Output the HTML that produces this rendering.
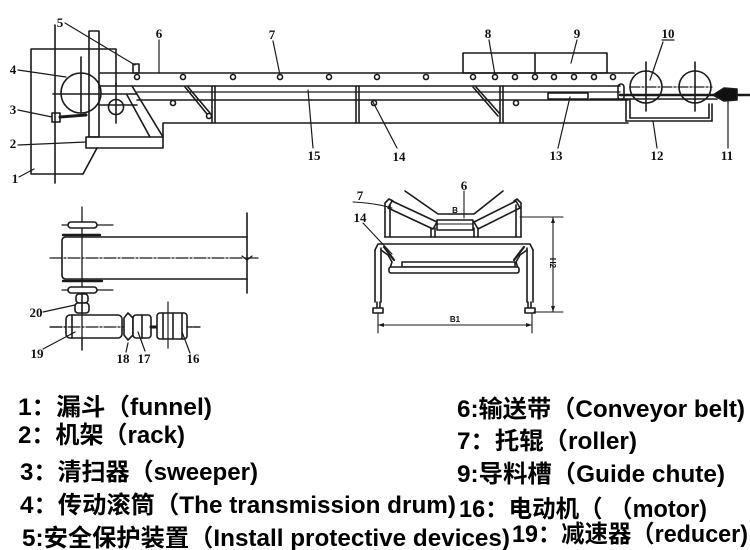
<!DOCTYPE html>
<html>
<head>
<meta charset="utf-8">
<style>
html,body{margin:0;padding:0;background:#fff;}
svg{display:block;}
.t{font-family:"Liberation Sans","Noto Sans CJK SC",sans-serif;font-weight:bold;font-size:24px;fill:#000;}
.n{font-family:"Liberation Serif","Noto Serif CJK SC",serif;font-weight:bold;font-size:13px;fill:#111;text-anchor:middle;}
.s{font-family:"Liberation Sans",sans-serif;font-weight:bold;font-size:8px;fill:#111;text-anchor:middle;}
</style>
</head>
<body>
<svg width="750" height="550" viewBox="0 0 750 550" xmlns="http://www.w3.org/2000/svg">
<g fill="none" stroke="#1a1a1a" stroke-width="1.6" stroke-linecap="round" stroke-linejoin="round">
  <!-- ===== MAIN SIDE VIEW ===== -->
  <polyline points="116,86 116,49 31,49 31,174 83,174 97,148"/>
  <line x1="55" y1="25" x2="55" y2="183"/>
  <rect x="89" y="31" width="10" height="106"/>
  <circle cx="81" cy="93" r="20"/>
  <line x1="81" y1="57" x2="81" y2="113"/>
  <line x1="53" y1="94" x2="137" y2="94"/>
  <line x1="100" y1="73" x2="634" y2="73"/>
  <line x1="100" y1="86" x2="620" y2="86"/>
  <line x1="137" y1="92" x2="620" y2="92" stroke-width="1.2"/>
  <line x1="137" y1="100" x2="628" y2="100"/>
  <line x1="100" y1="105" x2="137" y2="105"/>
  <line x1="132" y1="86" x2="163" y2="137"/>
  <line x1="127" y1="95" x2="150" y2="137"/>
  <rect x="86" y="137" width="77" height="11"/>
  <polyline points="163,137 163,123 628,123"/>
  <circle cx="116" cy="107" r="7.5"/>
  <line x1="116" y1="83" x2="116" y2="123"/>
  <rect x="52" y="113" width="8" height="9"/>
  <line x1="60" y1="117" x2="86" y2="115" stroke-width="3"/>
  <rect x="133" y="64" width="6" height="9"/>
  <g fill="#fff">
    <circle cx="137" cy="77" r="2.5"/><circle cx="183" cy="77" r="2.5"/><circle cx="233" cy="77" r="2.5"/>
    <circle cx="280" cy="77" r="2.5"/><circle cx="329" cy="77" r="2.5"/><circle cx="377" cy="77" r="2.5"/>
    <circle cx="426" cy="77" r="2.5"/><circle cx="473" cy="77" r="2.5"/><circle cx="495" cy="77" r="2.5"/>
    <circle cx="515" cy="77" r="2.5"/><circle cx="535" cy="77" r="2.5"/><circle cx="554" cy="77" r="2.5"/>
    <circle cx="574" cy="77" r="2.5"/><circle cx="594" cy="77" r="2.5"/><circle cx="613" cy="77" r="2.5"/>
    <circle cx="173" cy="103" r="2.5"/><circle cx="374" cy="103" r="2.5"/><circle cx="516" cy="103" r="2.5"/>
  </g>
  <line x1="185" y1="87" x2="207" y2="114"/>
  <line x1="188" y1="87" x2="210" y2="113"/>
  <circle cx="209" cy="116" r="2.5" fill="#fff"/>
  <line x1="212" y1="86" x2="212" y2="123"/>
  <line x1="215" y1="86" x2="215" y2="123"/>
  <line x1="356" y1="86" x2="356" y2="123"/>
  <line x1="359" y1="86" x2="359" y2="123"/>
  <line x1="473" y1="87" x2="498" y2="116"/>
  <line x1="476" y1="87" x2="500" y2="114"/>
  <line x1="500" y1="86" x2="500" y2="123"/>
  <line x1="503" y1="86" x2="503" y2="123"/>
  <rect x="463" y="53" width="144" height="20"/>
  <line x1="535" y1="53" x2="535" y2="73"/>
  <rect x="548" y="93" width="40" height="6"/>
  <rect x="618" y="84" width="6" height="16" rx="3"/>
  <circle cx="646" cy="87" r="16"/>
  <circle cx="695" cy="87" r="16"/>
  <line x1="646" y1="62" x2="646" y2="111"/>
  <line x1="695" y1="62" x2="695" y2="111"/>
  <line x1="630" y1="87" x2="712" y2="87" stroke-dasharray="10 2 2 2" stroke-width="1.2"/>
  <line x1="620" y1="95" x2="750" y2="95" stroke-width="2.4"/>
  <line x1="590" y1="99" x2="717" y2="99"/>
  <line x1="626" y1="99" x2="626" y2="121"/>
  <line x1="630" y1="99" x2="630" y2="118"/>
  <line x1="626" y1="121" x2="712" y2="121"/>
  <line x1="630" y1="118" x2="709" y2="118"/>
  <line x1="712" y1="104" x2="712" y2="121"/>
  <line x1="709" y1="104" x2="709" y2="118"/>
  <polygon points="713,95 724,88 737,89 737,100 724,101" fill="#111"/>

  <g stroke-width="1.2">
    <line x1="65" y1="23" x2="135" y2="65"/>
    <line x1="159" y1="40" x2="159" y2="73"/>
    <line x1="18" y1="70" x2="66" y2="77"/>
    <line x1="18" y1="110" x2="52" y2="117"/>
    <line x1="18" y1="145" x2="86" y2="142"/>
    <line x1="19" y1="177" x2="34" y2="169"/>
    <line x1="273" y1="41" x2="280" y2="75"/>
    <line x1="489" y1="40" x2="495" y2="75"/>
    <line x1="577" y1="40" x2="571" y2="63"/>
    <line x1="663" y1="42" x2="650" y2="80"/>
    <line x1="662" y1="40" x2="674" y2="40"/>
    <line x1="308" y1="90" x2="313" y2="148"/>
    <line x1="373" y1="102" x2="397" y2="148"/>
    <line x1="570" y1="97" x2="558" y2="148"/>
    <line x1="653" y1="121" x2="657" y2="148"/>
    <line x1="728" y1="100" x2="728" y2="148"/>
  </g>

  <!-- ===== BOTTOM LEFT PLAN VIEW ===== -->
  <path d="M247,237 L66,237 Q62,237 62,241 L62,275 Q62,279 66,279 L247,279"/>
  <line x1="63" y1="235" x2="100" y2="235" stroke-width="2.4"/>
  <line x1="63" y1="281" x2="102" y2="281" stroke-width="2.4"/>
  <line x1="247" y1="213" x2="247" y2="293"/>
  <line x1="82" y1="207" x2="82" y2="350" stroke-width="1.3"/>
  <line x1="50" y1="258" x2="258" y2="258" stroke-dasharray="12 2 2 2" stroke-width="1.2"/>
  <path d="M242,256 L247,260 L252,256" stroke-width="1.2"/>
  <line x1="62" y1="225" x2="113" y2="225" stroke-width="1.2"/>
  <rect x="68" y="222" width="29" height="6" rx="3" fill="#fff"/>
  <line x1="62" y1="290" x2="113" y2="290" stroke-width="1.2"/>
  <rect x="68" y="287" width="29" height="6" rx="3" fill="#fff"/>
  <rect x="76" y="294" width="12" height="9" rx="3" fill="#fff"/>
  <rect x="75" y="303" width="14" height="10" rx="3" fill="#fff"/>
  <line x1="82" y1="294" x2="82" y2="313"/>
  <line x1="50" y1="327" x2="200" y2="327" stroke-dasharray="12 2 2 2" stroke-width="1.2"/>
  <rect x="66" y="315" width="56" height="23" rx="4" fill="#fff"/>
  <line x1="72" y1="315" x2="72" y2="338"/>
  <line x1="82" y1="313" x2="82" y2="350" stroke-width="1.3"/>
  <line x1="50" y1="327" x2="122" y2="327" stroke-dasharray="12 2 2 2" stroke-width="1.2"/>
  <polygon points="128,313 133,318 133,335 128,340 124,335 124,318" fill="#fff"/>
  <rect x="133" y="315" width="18" height="23" rx="3" fill="#fff"/>
  <line x1="142" y1="315" x2="142" y2="338"/>
  <line x1="151" y1="327" x2="157" y2="327" stroke-width="3"/>
  <rect x="157" y="313" width="30" height="26" rx="3" fill="#fff"/>
  <line x1="163" y1="313" x2="163" y2="339"/>
  <line x1="173" y1="313" x2="173" y2="339"/>
  <line x1="182" y1="313" x2="182" y2="339"/>
  <line x1="168" y1="302" x2="168" y2="348" stroke-width="1.2"/>
  <line x1="187" y1="327" x2="200" y2="327" stroke-width="1.2"/>
  <g stroke-width="1.2">
    <line x1="43" y1="312" x2="75" y2="305"/>
    <line x1="43" y1="349" x2="75" y2="332"/>
    <line x1="128" y1="343" x2="126" y2="352"/>
    <line x1="138" y1="332" x2="145" y2="351"/>
    <line x1="182" y1="332" x2="190" y2="353"/>
  </g>

  <!-- ===== BOTTOM MIDDLE IDLER ===== -->
  <polyline points="405,191 438,214 474,214 503,191"/>
  <polygon points="392,201 437,222 433,229 388,208" fill="#fff"/>
  <polygon points="474,222 516,201 520,208 478,229" fill="#fff"/>
  <rect x="437" y="220" width="36" height="10" fill="#fff"/>
  <line x1="437" y1="224" x2="473" y2="224" stroke-width="1"/>
  <line x1="431" y1="228" x2="431" y2="237"/><line x1="435" y1="228" x2="435" y2="237"/>
  <line x1="474" y1="228" x2="474" y2="237"/><line x1="478" y1="228" x2="478" y2="237"/>
  <polyline points="385,237 385,203 389,199 393,201"/>
  <line x1="390" y1="205" x2="390" y2="237"/>
  <polyline points="521,237 521,203 517,199 514,201"/>
  <line x1="516" y1="205" x2="516" y2="237"/>
  <line x1="385" y1="237" x2="521" y2="237"/>
  <polyline points="375,250 378,244 530,244 533,250"/>
  <line x1="375" y1="250" x2="375" y2="302"/>
  <line x1="381" y1="248" x2="381" y2="302"/>
  <line x1="377" y1="302" x2="377" y2="308"/><line x1="380" y1="302" x2="380" y2="308"/>
  <rect x="373" y="308" width="10" height="5" fill="#fff"/>
  <line x1="527" y1="248" x2="527" y2="302"/>
  <line x1="533" y1="250" x2="533" y2="302"/>
  <line x1="528" y1="302" x2="528" y2="308"/><line x1="531" y1="302" x2="531" y2="308"/>
  <rect x="525" y="308" width="10" height="5" fill="#fff"/>
  <polyline points="381,250 388,255 392,262 390,268"/>
  <polyline points="527,250 520,255 516,262 518,268"/>
  <line x1="384" y1="247" x2="394" y2="260" stroke-width="2.2"/>
  <line x1="524" y1="247" x2="514" y2="260" stroke-width="2.2"/>
  <rect x="402" y="262" width="113" height="5"/>
  <rect x="389" y="267" width="130" height="6" rx="2" fill="#fff"/>
  <line x1="520" y1="217" x2="563" y2="217" stroke-width="1.1"/>
  <line x1="534" y1="312" x2="563" y2="312" stroke-width="1.1"/>
  <line x1="553" y1="217" x2="553" y2="312" stroke-width="1.1"/>
  <line x1="378" y1="313" x2="378" y2="333" stroke-width="1.1"/>
  <line x1="532" y1="313" x2="532" y2="333" stroke-width="1.1"/>
  <line x1="378" y1="325" x2="532" y2="325" stroke-width="1.1"/>
  <g stroke-width="1.1">
    <line x1="464" y1="191" x2="464" y2="218"/>
    <path d="M353,202 Q375,203 392,208"/>
    <line x1="363" y1="223" x2="392" y2="254"/>
  </g>
</g>

<g fill="#1a1a1a">
  <polygon points="553,217 551,223 555,223"/>
  <polygon points="553,312 551,306 555,306"/>
  <polygon points="378,325 384,323 384,327"/>
  <polygon points="532,325 526,323 526,327"/>
</g>

<!-- ===== NUMBER LABELS ===== -->
<text class="n" x="60" y="27">5</text>
<text class="n" x="159" y="38">6</text>
<text class="n" x="13" y="74">4</text>
<text class="n" x="13" y="114">3</text>
<text class="n" x="13" y="148">2</text>
<text class="n" x="15" y="183">1</text>
<text class="n" x="272" y="39">7</text>
<text class="n" x="488" y="38">8</text>
<text class="n" x="577" y="38">9</text>
<text class="n" x="668" y="38">10</text>
<text class="n" x="314" y="160">15</text>
<text class="n" x="399" y="161">14</text>
<text class="n" x="556" y="160">13</text>
<text class="n" x="657" y="160">12</text>
<text class="n" x="727" y="160">11</text>

<text class="n" x="36" y="317">20</text>
<text class="n" x="37" y="358">19</text>
<text class="n" x="123" y="363">18</text>
<text class="n" x="144" y="363">17</text>
<text class="n" x="193" y="363">16</text>

<text class="n" x="464" y="190">6</text>
<text class="n" x="360" y="200">7</text>
<text class="n" x="360" y="222">14</text>
<text class="s" x="455" y="213">B</text>
<text class="s" x="455" y="322">B1</text>
<text class="s" transform="translate(550,263) rotate(90)" x="0" y="0">H2</text>

<!-- ===== LEGEND ===== -->
<text class="t" x="18" y="415" textLength="194" lengthAdjust="spacingAndGlyphs">1：漏斗（funnel)</text>
<text class="t" x="18" y="443" textLength="167" lengthAdjust="spacingAndGlyphs">2：机架（rack)</text>
<text class="t" x="20" y="480" textLength="238" lengthAdjust="spacingAndGlyphs">3：清扫器（sweeper)</text>
<text class="t" x="20" y="513" textLength="436" lengthAdjust="spacingAndGlyphs">4：传动滚筒（The transmission drum)</text>
<text class="t" x="22" y="546" textLength="488" lengthAdjust="spacingAndGlyphs">5:安全保护装置（Install protective devices)</text>

<text class="t" x="457" y="417" textLength="288" lengthAdjust="spacingAndGlyphs">6:输送带（Conveyor belt)</text>
<text class="t" x="457" y="449" textLength="180" lengthAdjust="spacingAndGlyphs">7：托辊（roller)</text>
<text class="t" x="457" y="482" textLength="268" lengthAdjust="spacingAndGlyphs">9:导料槽（Guide chute)</text>
<text class="t" x="459" y="517" textLength="248" lengthAdjust="spacingAndGlyphs">16：电动机（ （motor)</text>
<text class="t" x="512" y="542" textLength="236" lengthAdjust="spacingAndGlyphs">19：减速器（reducer)</text>
</svg>
</body>
</html>
